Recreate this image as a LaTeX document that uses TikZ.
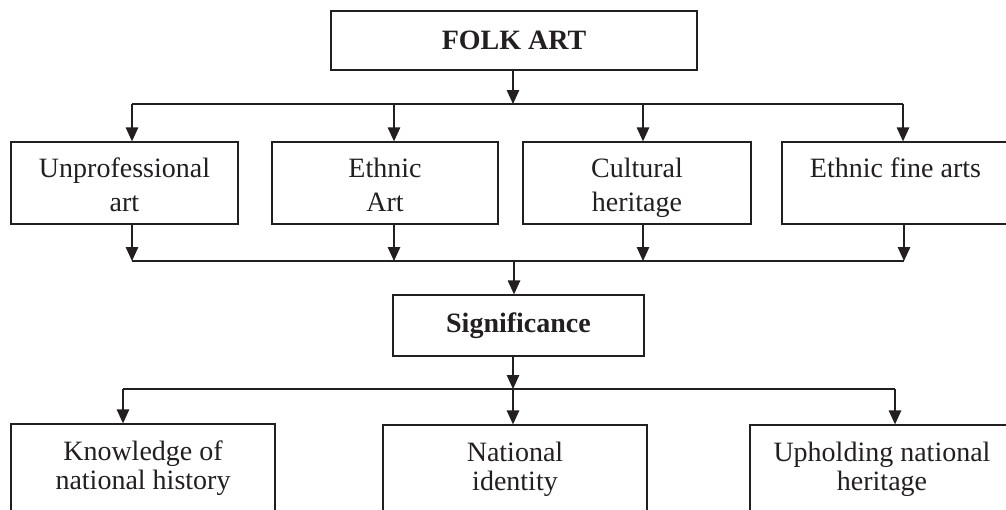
\documentclass[tikz,border=0pt]{standalone}
\usepackage{fontspec}
\setmainfont{Liberation Serif}
\usetikzlibrary{arrows.meta}
\definecolor{ink}{HTML}{231F20}
\newcommand\myrule[1]{\rule{0pt}{#1}}
\begin{document}
\begin{tikzpicture}[x=1pt,y=-1pt,
  box/.style={draw=ink,line width=1.3pt,text=ink,align=center,inner sep=0pt,
    font=\fontsize{28}{34}\selectfont,minimum height=82pt},
  lowbox/.style={box,font=\fontsize{28}{29}\selectfont,minimum height=90pt,minimum width=264pt},
  arr/.style={draw=ink,line width=1.3pt,-{Triangle[length=14pt,width=12.5pt]}},
  ln/.style={draw=ink,line width=1.2pt}]
\useasboundingbox (0,0) rectangle (1006,509);
\clip (0,0) rectangle (1006,509);
\fill[white] (0,0) rectangle (1006,509);
% nodes
\node[box,minimum width=366pt,minimum height=59pt,font=\fontsize{28}{34}\selectfont\bfseries] (folk) at (514,40.5) {FOLK ART};
\node[box,minimum width=227pt] (u) at (124.5,183) {\myrule{32.2pt}Unprofessional\\art\strut};
\node[box,minimum width=226pt] (e) at (385,183) {\myrule{32.2pt}Ethnic\\Art\strut};
\node[box,minimum width=228pt] (c) at (637,183) {\myrule{32.2pt}Cultural\\heritage\strut};
\node[box,minimum width=227pt] (f) at (895.5,183) {\myrule{32.2pt}Ethnic fine arts\\\strut};
\node[box,minimum width=251pt,minimum height=61pt,font=\fontsize{28}{34}\selectfont\bfseries] (sig) at (518.5,325.5) {Significance};
\node[lowbox] (k) at (143,469) {\strut Knowledge of\\national history\strut};
\node[lowbox] (n) at (515,470) {\strut National\\identity\strut};
\node[lowbox] (h) at (882,470) {\strut Upholding national\\heritage\strut};
% junction coordinates
\coordinate (j1M) at (513,104);
\coordinate (j1L) at (132,104);
\coordinate (j1R) at (903,104);
\coordinate (j1e) at (394,104);
\coordinate (j1c) at (643,104);
\coordinate (j2L) at (132,261);
\coordinate (j2R) at (904,261);
\coordinate (j2e) at (394,261);
\coordinate (j2c) at (643,261);
\coordinate (j2M) at (514,261);
\coordinate (j3M) at (513,389);
\coordinate (j3L) at (123,389);
\coordinate (j3R) at (895,389);
% connectors top
\draw[arr] (folk.south -| j1M) -- (j1M);
\draw[ln] (j1L) -- (j1R);
\draw[arr] (j1L) -- (j1L |- u.north);
\draw[arr] (j1e) -- (j1e |- e.north);
\draw[arr] (j1c) -- (j1c |- c.north);
\draw[arr] (j1R) -- (j1R |- f.north);
% connectors middle
\draw[arr] (u.south -| j2L) -- (j2L);
\draw[arr] (e.south -| j2e) -- (j2e);
\draw[arr] (c.south -| j2c) -- (j2c);
\draw[arr] (f.south -| j2R) -- (j2R);
\draw[ln] (j2L) -- (j2R);
\draw[arr] (j2M) -- (j2M |- sig.north);
% connectors bottom
\draw[arr] (sig.south -| j3M) -- (j3M);
\draw[ln] (j3L) -- (j3R);
\draw[arr] (j3L) -- (j3L |- k.north);
\draw[arr] (j3M) -- (j3M |- n.north);
\draw[arr] (j3R) -- (j3R |- h.north);
\end{tikzpicture}
\end{document}
